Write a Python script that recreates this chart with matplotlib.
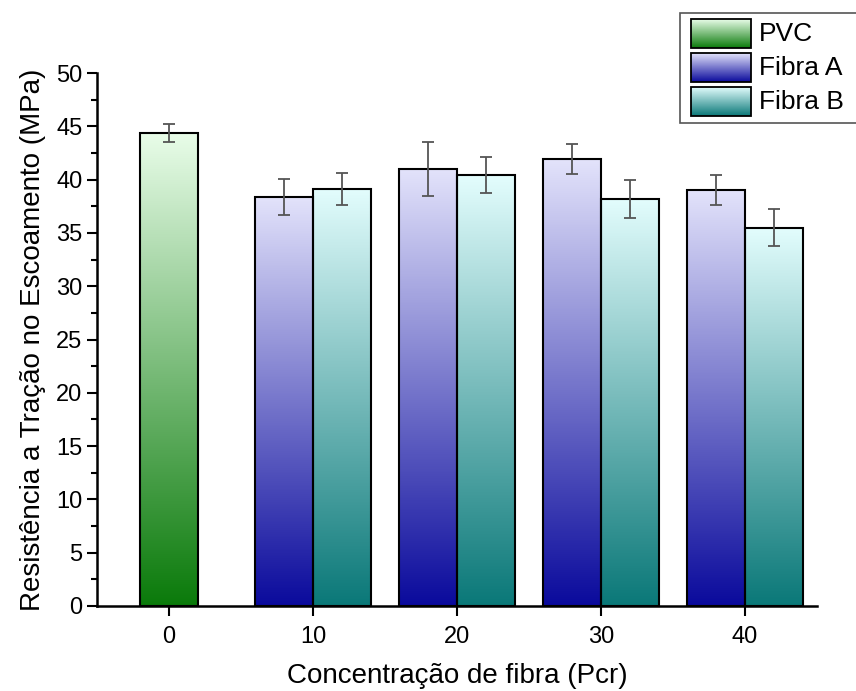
import numpy as np
import matplotlib
matplotlib.use("Agg")
import matplotlib.pyplot as plt
from matplotlib.colors import LinearSegmentedColormap
from matplotlib.patches import Rectangle

plt.rcParams["font.family"] = ["Liberation Sans", "DejaVu Sans"]

# data
pvc_conc = [0]
pvc_val = [44.4]
pvc_err = [0.85]

fiber_conc = [10, 20, 30, 40]
fibra_a = [38.4, 41.0, 41.9, 39.05]
fibra_a_err = [1.7, 2.5, 1.4, 1.4]
fibra_b = [39.15, 40.4, 38.2, 35.5]
fibra_b_err = [1.5, 1.7, 1.8, 1.75]

x_ticks = [0, 10, 20, 30, 40]
labels = ["PVC", "Fibra A", "Fibra B"]

cmaps = {
    "PVC": LinearSegmentedColormap.from_list("pvc", ["#0a7a0a", "#e9fde9"]),
    "Fibra A": LinearSegmentedColormap.from_list("fa", ["#0a0a9c", "#e3e3fb"]),
    "Fibra B": LinearSegmentedColormap.from_list("fb", ["#0a7878", "#e3fdfd"]),
}
grad = np.linspace(1, 0, 256).reshape(-1, 1)
width = 4


def gradient_bars(ax, xs, vals, errs, cmap):
    bars = ax.bar(xs, vals, width=width, facecolor="none", edgecolor="black",
                  linewidth=1.5, zorder=3)
    for b in bars:
        x0 = b.get_x()
        h = b.get_height()
        im = ax.imshow(grad, cmap=cmap, aspect="auto",
                       extent=[x0, x0 + b.get_width(), 0, h], zorder=2)
        im.set_clip_path(b)
    ax.errorbar(xs, vals, yerr=errs, fmt="none", ecolor="#555555",
                elinewidth=1.3, capsize=4, capthick=1.3, zorder=4)


fig = plt.figure(figsize=(8.56, 6.91), dpi=100)
ax = fig.add_axes([97 / 856, 85 / 691, 720 / 856, 533 / 691])

gradient_bars(ax, pvc_conc, pvc_val, pvc_err, cmaps["PVC"])
gradient_bars(ax, np.array(fiber_conc) - 2, fibra_a, fibra_a_err, cmaps["Fibra A"])
gradient_bars(ax, np.array(fiber_conc) + 2, fibra_b, fibra_b_err, cmaps["Fibra B"])

ax.set_xlim(-5, 45)
ax.set_ylim(0, 50)
ax.set_xticks(x_ticks)
ax.set_yticks(np.arange(0, 51, 5))
ax.set_yticks(np.arange(2.5, 50, 5), minor=True)
ax.tick_params(axis="both", direction="out", width=1.5, length=7.5, labelsize=17)
ax.tick_params(axis="y", which="minor", direction="out", width=1.5, length=4)
ax.tick_params(axis="x", pad=7)
ax.tick_params(axis="y", pad=3)
for s in ["top", "right"]:
    ax.spines[s].set_visible(False)
for s in ["left", "bottom"]:
    ax.spines[s].set_linewidth(1.8)

ax.set_xlabel("Concentração de fibra (Pcr)", fontsize=20, labelpad=11)
ax.set_ylabel("Resistência a Tração no Escoamento (MPa)", fontsize=20, labelpad=7)

# legend drawn by hand with gradient swatches
lax = fig.add_axes([0, 0, 1, 1])
lax.axis("off")
lax.add_patch(Rectangle((680, 13), 190, 110, facecolor="white",
                        edgecolor="#555555", linewidth=1.2, clip_on=False))
for i, name in enumerate(labels):
    y0 = 19 + i * 34
    lax.imshow(grad, cmap=cmaps[name], aspect="auto",
               extent=[691, 751, y0 + 29, y0], zorder=2)
    lax.add_patch(Rectangle((691, y0), 60, 29, facecolor="none",
                            edgecolor="black", linewidth=1.3, zorder=3))
    lax.text(759, y0 + 15, name, fontsize=19, va="center", ha="left")
lax.set_xlim(0, 856)
lax.set_ylim(691, 0)

fig.savefig("out.png", dpi=100)
